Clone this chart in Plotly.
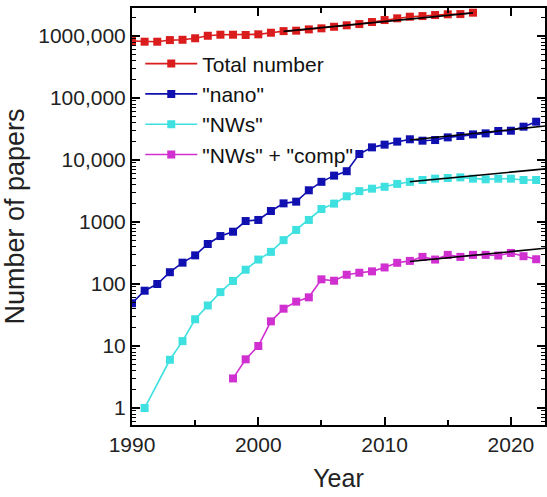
import plotly.graph_objects as go

# ---- data ----
years_total = list(range(1990, 2018))
total = [830e3, 810e3, 810e3, 860e3, 870e3, 920e3, 1010e3, 1050e3, 1050e3, 1040e3,
         1065e3, 1130e3, 1200e3, 1220e3, 1280e3, 1330e3, 1410e3, 1490e3, 1560e3, 1680e3,
         1810e3, 1930e3, 2050e3, 2100e3, 2180e3, 2240e3, 2260e3, 2380e3]

years_nano = list(range(1990, 2023))
nano = [49, 78, 100, 155, 221, 290, 442, 594, 698, 1037,
        1080, 1504, 2000, 2130, 3250, 4450, 5600, 6600, 12500, 16000,
        17700, 19800, 21600, 20500, 21000, 23200, 24400, 25900, 26900, 29400,
        29700, 34500, 41500]

years_nws = [1991] + list(range(1993, 2023))
nws = [1, 6, 12, 27, 45, 74, 112, 170, 248, 330,
       510, 745, 1080, 1620, 1980, 2600, 3150, 3450, 3700, 4120,
       4450, 4760, 5000, 5130, 5250, 5000, 4880, 5000, 5000, 4760, 4760]

years_comp = list(range(1998, 2023))
comp = [3, 6.1, 10, 25, 40, 52, 61, 119, 113, 141,
        152, 160, 185, 220, 236, 274, 248, 295, 274, 295,
        295, 288, 317, 281, 251]

# fitted trend lines (end points)
fit_total_x = [2002, 2017]
fit_total_y = [1.19e6, 2.36e6]
fit_nano_x = [2012, 2022.7]
fit_nano_y = [21000, 35300]
fit_nws_x = [2012, 2022.7]
fit_nws_y = [4450, 7200]
fit_comp_x = [2012, 2022.7]
fit_comp_y = [231, 377]

names = ["Total number", '"nano"', '"NWs"', '"NWs" + "comp"']
colors = ["#DA1C1C", "#1010B0", "#3EE0E0", "#D030D0"]

ytick_vals = [1, 10, 100, 1000, 10000, 100000, 1000000]
ytick_text = ["1", "10", "100", "1000", "10,000", "100,000", "1000,000"]
xtick_vals = [1990, 2000, 2010, 2020]

FONT = "Liberation Sans, Arial, sans-serif"

fig = go.Figure()
series = [(years_total, total), (years_nano, nano), (years_nws, nws), (years_comp, comp)]
for (xs, ys), nm, c in zip(series, names, colors):
    fig.add_trace(go.Scatter(
        x=xs, y=ys, name=nm, mode="lines+markers",
        line=dict(color=c, width=1.6),
        marker=dict(symbol="square", size=8, color=c),
    ))

for fx, fy in [(fit_total_x, fit_total_y), (fit_nano_x, fit_nano_y),
               (fit_nws_x, fit_nws_y), (fit_comp_x, fit_comp_y)]:
    fig.add_trace(go.Scatter(x=fx, y=fy, mode="lines", showlegend=False,
                             line=dict(color="black", width=1.6), hoverinfo="skip"))

fig.update_layout(
    width=547, height=497,
    margin=dict(l=132, r=0, t=8, b=72),
    paper_bgcolor="white", plot_bgcolor="white",
    font=dict(family=FONT, size=21, color="#222"),
    showlegend=True,
    legend=dict(x=0.02, y=0.915, xanchor="left", yanchor="top",
                bgcolor="rgba(0,0,0,0)", itemwidth=52,
                font=dict(family=FONT, size=21, color="#111"),
                tracegroupgap=0),
)

fig.update_xaxes(
    range=[1990, 2022.7], tickvals=xtick_vals,
    ticks="inside", ticklen=8, tickwidth=1.5, tickcolor="black",
    showline=True, linecolor="black", linewidth=2, mirror="allticks",
    showgrid=False, zeroline=False,
    minor=dict(tickvals=[1995, 2005, 2015], ticks="inside", ticklen=5,
               tickwidth=1.5, tickcolor="black", showgrid=False),
    title=dict(text="Year", font=dict(family=FONT, size=25, color="#222"), standoff=14),
    tickfont=dict(family=FONT, size=21, color="#222"),
)

fig.update_yaxes(
    type="log", range=[-0.274, 6.452],
    tickvals=ytick_vals, ticktext=ytick_text,
    ticks="inside", ticklen=8, tickwidth=1.5, tickcolor="black",
    showline=True, linecolor="black", linewidth=2, mirror="allticks",
    showgrid=False, zeroline=False,
    minor=dict(dtick="D1", ticks="inside", ticklen=4, tickwidth=1,
               tickcolor="black", showgrid=False),
    title=dict(text="Number of papers", font=dict(family=FONT, size=27, color="#222"), standoff=10),
    tickfont=dict(family=FONT, size=21, color="#222"),
)

fig.write_html("out.html",
               config={"displayModeBar": False},
               post_script="document.body.style.margin='0px';document.body.style.overflow='hidden';")
